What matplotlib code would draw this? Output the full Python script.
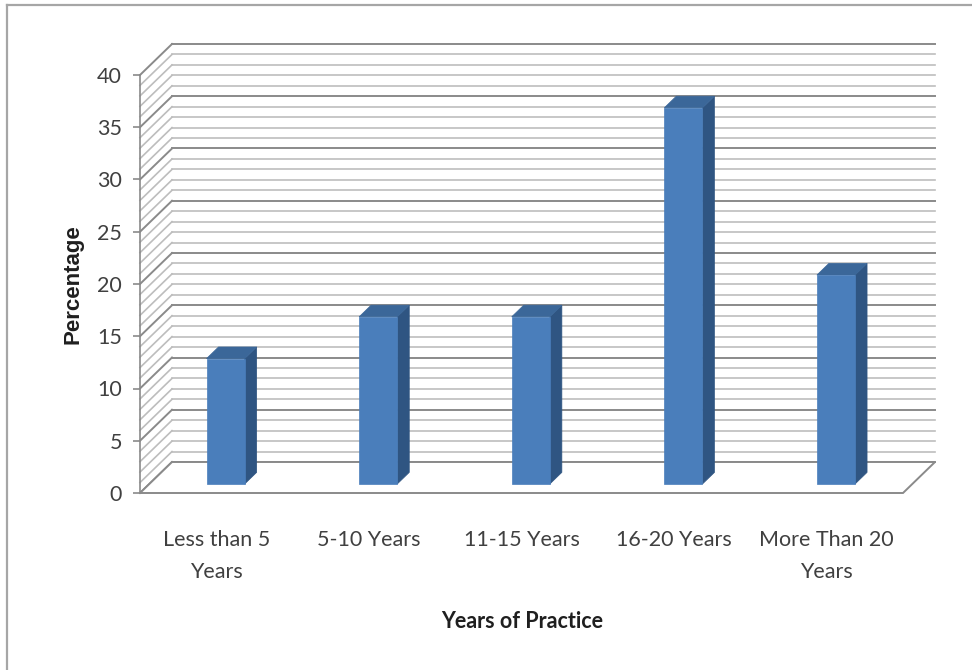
import matplotlib
matplotlib.use("Agg")
import matplotlib.pyplot as plt
from matplotlib.patches import Polygon
from matplotlib.lines import Line2D

# ---- data -------------------------------------------------------------
categories = ["Less than 5\nYears", "5-10 Years", "11-15 Years", "16-20 Years",
              "More Than 20\nYears"]
percentages = [12, 16, 16, 36, 20]
y_ticks = [0, 5, 10, 15, 20, 25, 30, 35, 40]
y_max = 40
x_title = "Years of Practice"
y_title = "Percentage"

# ---- style ------------------------------------------------------------
narrow = ["Lato", "Liberation Sans", "DejaVu Sans"]
plain = ["Liberation Sans", "DejaVu Sans"]
face_col = "#4A7EBB"
side_col = "#2F5582"
top_col = "#3B6799"
minor_col = "#BDBDBD"
major_col = "#8A8A8A"
DEPTH_PX = (32.0, 31.0)        # screen offset of the back wall, in pixels
BAR_DEPTH = (0.29, 0.665)      # front / back of the columns as depth fraction
BAR_W = 0.25

W, H = 972, 670
fig = plt.figure(figsize=(W / 100, H / 100), dpi=100)
ax = fig.add_axes([140 / W, (H - 493) / H, 763 / W, 418 / H])
ax.set_xlim(-0.5, len(categories) - 0.5)
ax.set_ylim(0, y_max)
ax.patch.set_visible(False)
for s in ("top", "right", "bottom"):
    ax.spines[s].set_visible(False)
ax.spines["left"].set_color(major_col)
ax.spines["left"].set_linewidth(1.2)

# depth offset converted to data units
fig.canvas.draw()
p0 = ax.transData.transform((0, 0))
p1 = ax.transData.transform((1, 1))
ddx = DEPTH_PX[0] / (p1[0] - p0[0])
ddy = DEPTH_PX[1] / (p1[1] - p0[1])


def P(x, v, d):
    return (x + d * ddx, v + d * ddy)


x0, x1 = -0.5, len(categories) - 0.5

# back wall and left wall gridlines, one per unit
for v in range(0, y_max + 1):
    major = (v % 5 == 0)
    col = major_col if major else minor_col
    lw = 1.4 if major else 1.2
    a, b = P(x0, v, 1), P(x1, v, 1)
    ax.add_line(Line2D([a[0], b[0]], [a[1], b[1]], color=col, lw=lw,
                       clip_on=False, zorder=1))
    c, e = P(x0, v, 0), P(x0, v, 1)
    ax.add_line(Line2D([c[0], e[0]], [c[1], e[1]], color=col, lw=lw,
                       clip_on=False, zorder=1))

# floor
floor = Polygon([P(x0, 0, 0), P(x1, 0, 0), P(x1, 0, 1), P(x0, 0, 1)],
                closed=True, facecolor="white", edgecolor=major_col, lw=1.4,
                clip_on=False, zorder=2)
ax.add_patch(floor)

# columns
d0, d1 = BAR_DEPTH
for i, v in enumerate(percentages):
    l, r = i - BAR_W / 2, i + BAR_W / 2
    side = [P(r, 0, d0), P(r, 0, d1), P(r, v, d1), P(r, v, d0)]
    top = [P(l, v, d0), P(r, v, d0), P(r, v, d1), P(l, v, d1)]
    front = [P(l, 0, d0), P(r, 0, d0), P(r, v, d0), P(l, v, d0)]
    for pts, col in ((side, side_col), (top, top_col), (front, face_col)):
        ax.add_patch(Polygon(pts, closed=True, facecolor=col, edgecolor=col,
                             lw=0.5, clip_on=False, zorder=3))

# axes ticks and labels
ax.set_yticks(y_ticks)
ax.set_yticklabels([str(t) for t in y_ticks], fontfamily=narrow, fontsize=15.5,
                   color="#404040")
ax.tick_params(axis="y", length=5, width=1.2, color=major_col, pad=8)
ax.set_xticks(range(len(categories)))
ax.set_xticklabels(categories, fontfamily=narrow, fontsize=15.5,
                   color="#404040", linespacing=1.7, va="top")
ax.tick_params(axis="x", length=0, pad=27)

fig.text(522 / W, 1 - 622 / H, x_title, ha="center", va="center",
         fontfamily=narrow, fontsize=15.5, fontweight="bold", color="#1f1f1f")
fig.text(73 / W, 1 - 284 / H, y_title, ha="center", va="center",
         rotation=90, fontfamily=plain, fontsize=16, fontweight="bold",
         color="#1f1f1f")

# outer chart frame (top and left edges)
fig.add_artist(Line2D([7 / W, 1], [1 - 5 / H, 1 - 5 / H],
                      transform=fig.transFigure, color="#A6A6A6", lw=1.6))
fig.add_artist(Line2D([7 / W, 7 / W], [0, 1 - 5 / H],
                      transform=fig.transFigure, color="#A6A6A6", lw=1.6))

fig.savefig("out.png", dpi=100)
